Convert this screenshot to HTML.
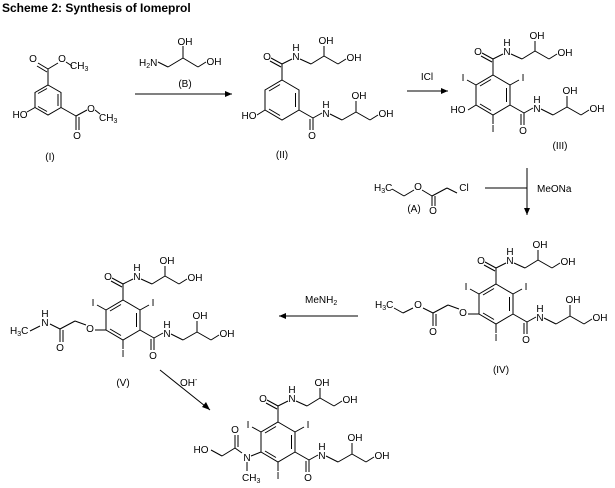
<!DOCTYPE html>
<html><head><meta charset="utf-8"><style>
html,body{margin:0;padding:0;background:#fff;}
svg{display:block;}
text{font-family:"Liberation Sans",sans-serif;font-size:10px;fill:#000;}
.t{font-weight:bold;font-size:12px;}
</style></head><body>
<svg width="615" height="488" viewBox="0 0 615 488" xmlns="http://www.w3.org/2000/svg">
<text class="t" x="2" y="12">Scheme 2: Synthesis of Iomeprol</text>
<g stroke="#000" stroke-width="1" fill="none">
<!-- Compound I -->
<polygon points="48,85 61,92.5 61,107.5 48,115 35,107.5 35,92.5"/>
<line x1="38" y1="93.5" x2="47" y2="88.5"/><line x1="58" y1="94" x2="58" y2="106"/><line x1="38" y1="106.5" x2="47" y2="111.5"/>
<line x1="48" y1="85" x2="48" y2="69"/><line x1="48" y1="69" x2="38" y2="63"/><line x1="47" y1="72" x2="37" y2="66"/>
<line x1="48" y1="69" x2="58" y2="63"/><line x1="66" y1="62" x2="72" y2="66"/>
<line x1="35" y1="107.5" x2="27" y2="112"/>
<line x1="61" y1="107.5" x2="76" y2="116"/><line x1="76" y1="116" x2="76" y2="130"/><line x1="79" y1="117" x2="79" y2="130"/>
<line x1="76" y1="116" x2="87" y2="110"/><line x1="95" y1="110" x2="100" y2="114"/>
<!-- Reagent B -->
<line x1="158" y1="62" x2="168" y2="67"/><line x1="168" y1="67" x2="183" y2="58"/><line x1="183" y1="58" x2="183" y2="46"/><line x1="183" y1="58" x2="198" y2="67"/><line x1="198" y1="67" x2="206" y2="62"/>
<line x1="135" y1="94" x2="232" y2="94"/>
<line x1="407" y1="91" x2="448" y2="91"/>
<line x1="485" y1="188" x2="527" y2="188"/><line x1="527" y1="168" x2="527" y2="215"/>
<line x1="358" y1="316" x2="279" y2="316"/>
<line x1="160" y1="370" x2="210" y2="410"/>
<!-- Reagent A -->
<line x1="392" y1="189" x2="404" y2="196"/><line x1="404" y1="196" x2="414" y2="190"/><line x1="422" y1="190" x2="432" y2="196"/>
<line x1="432" y1="196" x2="432" y2="206"/><line x1="435" y1="196" x2="435" y2="206"/><line x1="432" y1="196" x2="447" y2="188"/><line x1="447" y1="188" x2="457" y2="193"/>
</g>
<g fill="#000">
<polygon points="232,94 225,91 225,97"/>
<polygon points="448,91 441,88 441,94"/>
<polygon points="527,215 524,208 530,208"/>
<polygon points="279,316 286,313 286,319"/>
<polygon points="210,410 202,407 206,402"/>
</g>
<text x="33" y="62" text-anchor="middle">O</text><text x="62" y="62" text-anchor="middle">O</text>
<text x="70" y="69">CH<tspan font-size="7" dy="2">3</tspan></text>
<text x="20" y="118" text-anchor="middle">HO</text>
<text x="77" y="139" text-anchor="middle">O</text><text x="91" y="112" text-anchor="middle">O</text>
<text x="99" y="121">CH<tspan font-size="7" dy="2">3</tspan></text>
<text x="50" y="160" text-anchor="middle">(I)</text>
<text x="139" y="66">H<tspan font-size="7" dy="2">2</tspan><tspan dy="-2">N</tspan></text>
<text x="185" y="45" text-anchor="middle">OH</text><text x="214" y="65" text-anchor="middle">OH</text>
<text x="185" y="87" text-anchor="middle">(B)</text>
<text x="427" y="80" text-anchor="middle">ICl</text>
<text x="537" y="192">MeONa</text>
<text x="305" y="303">MeNH<tspan font-size="7" dy="2">2</tspan></text>
<text x="180" y="386">OH<tspan font-size="7" dy="-4">-</tspan></text>
<text x="414" y="212" text-anchor="middle">(A)</text>
<text x="374" y="191">H<tspan font-size="7" dy="2">3</tspan><tspan dy="-2">C</tspan></text>
<text x="418" y="190" text-anchor="middle">O</text><text x="433" y="214" text-anchor="middle">O</text>
<text x="464" y="191" text-anchor="middle">Cl</text>

<!-- Compound II -->
<g transform="translate(282,100)">
<g stroke="#000" fill="none">
<polygon points="0,-20 17,-10 17,10 0,20 -17,10 -17,-10"/>
<line x1="-13" y1="-9" x2="-2" y2="-15.5"/><line x1="13.5" y1="-7" x2="13.5" y2="7"/><line x1="-13" y1="9" x2="-2" y2="15.5"/>
<line x1="0" y1="-20" x2="0" y2="-36"/><line x1="0" y1="-36" x2="-11" y2="-42"/><line x1="-1" y1="-33" x2="-12" y2="-39"/>
<line x1="0" y1="-36" x2="10" y2="-41"/><line x1="18" y1="-41" x2="29" y2="-36"/><line x1="29" y1="-36" x2="42" y2="-44"/><line x1="42" y1="-44" x2="42" y2="-54"/><line x1="42" y1="-44" x2="56" y2="-36"/><line x1="56" y1="-36" x2="64" y2="-41"/>
<line x1="-17" y1="10" x2="-25" y2="15"/>
<line x1="17" y1="10" x2="31" y2="18"/><line x1="31" y1="18" x2="31" y2="30"/><line x1="28" y1="19" x2="28" y2="30"/>
<line x1="31" y1="18" x2="40" y2="13"/><line x1="48" y1="14" x2="60" y2="20"/><line x1="60" y1="20" x2="74" y2="12"/><line x1="74" y1="12" x2="74" y2="1"/><line x1="74" y1="12" x2="88" y2="20"/><line x1="88" y1="20" x2="96" y2="15"/>
</g>
<text x="-15" y="-40" text-anchor="middle">O</text><text x="14" y="-40" text-anchor="middle">N</text><text x="14" y="-49" text-anchor="middle">H</text>
<text x="44" y="-56" text-anchor="middle">OH</text><text x="72" y="-39" text-anchor="middle">OH</text>
<text x="-33" y="19" text-anchor="middle">HO</text>
<text x="30" y="39" text-anchor="middle">O</text><text x="44" y="17" text-anchor="middle">N</text><text x="44" y="8" text-anchor="middle">H</text>
<text x="77" y="-1" text-anchor="middle">OH</text><text x="104" y="17" text-anchor="middle">OH</text>
<text x="0" y="58" text-anchor="middle">(II)</text>
</g>

<!-- Triiodo cores: III, IV, V, final -->
<g transform="translate(493,95)">
<g stroke="#000" fill="none">
<polygon points="0,-20 17,-10 17,10 0,20 -17,10 -17,-10"/>
<line x1="-13" y1="-9" x2="-2" y2="-15.5"/><line x1="13.5" y1="-7" x2="13.5" y2="7"/><line x1="-13" y1="9" x2="-2" y2="15.5"/>
<line x1="-17" y1="-10" x2="-26" y2="-15"/><line x1="17" y1="-10" x2="26" y2="-15"/><line x1="0" y1="20" x2="0" y2="29"/>
<line x1="0" y1="-20" x2="0" y2="-36"/><line x1="0" y1="-36" x2="-11" y2="-42"/><line x1="-1" y1="-33" x2="-12" y2="-39"/>
<line x1="0" y1="-36" x2="10" y2="-41"/><line x1="18" y1="-41" x2="29" y2="-36"/><line x1="29" y1="-36" x2="42" y2="-44"/><line x1="42" y1="-44" x2="42" y2="-54"/><line x1="42" y1="-44" x2="56" y2="-36"/><line x1="56" y1="-36" x2="64" y2="-41"/>
<line x1="17" y1="10" x2="31" y2="18"/><line x1="31" y1="18" x2="31" y2="30"/><line x1="28" y1="19" x2="28" y2="30"/>
<line x1="31" y1="18" x2="40" y2="13"/><line x1="48" y1="14" x2="60" y2="20"/><line x1="60" y1="20" x2="74" y2="12"/><line x1="74" y1="12" x2="74" y2="1"/><line x1="74" y1="12" x2="88" y2="20"/><line x1="88" y1="20" x2="96" y2="15"/>
<line x1="-17" y1="10" x2="-25" y2="15"/>
</g>
<text x="-30" y="-14" text-anchor="middle">I</text><text x="30" y="-14" text-anchor="middle">I</text><text x="0" y="37" text-anchor="middle">I</text>
<text x="-15" y="-40" text-anchor="middle">O</text><text x="14" y="-40" text-anchor="middle">N</text><text x="14" y="-49" text-anchor="middle">H</text>
<text x="44" y="-56" text-anchor="middle">OH</text><text x="72" y="-39" text-anchor="middle">OH</text>
<text x="30" y="39" text-anchor="middle">O</text><text x="44" y="17" text-anchor="middle">N</text><text x="44" y="8" text-anchor="middle">H</text>
<text x="77" y="-1" text-anchor="middle">OH</text><text x="104" y="17" text-anchor="middle">OH</text>
<text x="-35" y="18" text-anchor="middle">HO</text>
<text x="67" y="54" text-anchor="middle">(III)</text>
</g>

<g transform="translate(496,304)">
<g stroke="#000" fill="none">
<polygon points="0,-20 17,-10 17,10 0,20 -17,10 -17,-10"/>
<line x1="-13" y1="-9" x2="-2" y2="-15.5"/><line x1="13.5" y1="-7" x2="13.5" y2="7"/><line x1="-13" y1="9" x2="-2" y2="15.5"/>
<line x1="-17" y1="-10" x2="-26" y2="-15"/><line x1="17" y1="-10" x2="26" y2="-15"/><line x1="0" y1="20" x2="0" y2="29"/>
<line x1="0" y1="-20" x2="0" y2="-36"/><line x1="0" y1="-36" x2="-11" y2="-42"/><line x1="-1" y1="-33" x2="-12" y2="-39"/>
<line x1="0" y1="-36" x2="10" y2="-41"/><line x1="18" y1="-41" x2="29" y2="-36"/><line x1="29" y1="-36" x2="42" y2="-44"/><line x1="42" y1="-44" x2="42" y2="-54"/><line x1="42" y1="-44" x2="56" y2="-36"/><line x1="56" y1="-36" x2="64" y2="-41"/>
<line x1="17" y1="10" x2="31" y2="18"/><line x1="31" y1="18" x2="31" y2="30"/><line x1="28" y1="19" x2="28" y2="30"/>
<line x1="31" y1="18" x2="40" y2="13"/><line x1="48" y1="14" x2="60" y2="20"/><line x1="60" y1="20" x2="74" y2="12"/><line x1="74" y1="12" x2="74" y2="1"/><line x1="74" y1="12" x2="88" y2="20"/><line x1="88" y1="20" x2="96" y2="15"/>
<line x1="-17" y1="10" x2="-28" y2="10"/><line x1="-37" y1="5" x2="-48" y2="1"/><line x1="-48" y1="1" x2="-63" y2="9"/>
<line x1="-63" y1="9" x2="-63" y2="22"/><line x1="-60" y1="10" x2="-60" y2="22"/><line x1="-63" y1="9" x2="-73" y2="4"/><line x1="-83" y1="4" x2="-93" y2="9"/><line x1="-93" y1="9" x2="-102" y2="4"/>
</g>
<text x="-30" y="-14" text-anchor="middle">I</text><text x="30" y="-14" text-anchor="middle">I</text><text x="0" y="37" text-anchor="middle">I</text>
<text x="-15" y="-40" text-anchor="middle">O</text><text x="14" y="-40" text-anchor="middle">N</text><text x="14" y="-49" text-anchor="middle">H</text>
<text x="44" y="-56" text-anchor="middle">OH</text><text x="72" y="-39" text-anchor="middle">OH</text>
<text x="30" y="39" text-anchor="middle">O</text><text x="44" y="17" text-anchor="middle">N</text><text x="44" y="8" text-anchor="middle">H</text>
<text x="77" y="-1" text-anchor="middle">OH</text><text x="104" y="17" text-anchor="middle">OH</text>
<text x="-33" y="12" text-anchor="middle">O</text><text x="-78" y="4" text-anchor="middle">O</text><text x="-63" y="31" text-anchor="middle">O</text>
<text x="-121" y="4">H<tspan font-size="7" dy="2">3</tspan><tspan dy="-2">C</tspan></text>
<text x="5" y="69" text-anchor="middle">(IV)</text>
</g>

<g transform="translate(123,320)">
<g stroke="#000" fill="none">
<polygon points="0,-20 17,-10 17,10 0,20 -17,10 -17,-10"/>
<line x1="-13" y1="-9" x2="-2" y2="-15.5"/><line x1="13.5" y1="-7" x2="13.5" y2="7"/><line x1="-13" y1="9" x2="-2" y2="15.5"/>
<line x1="-17" y1="-10" x2="-26" y2="-15"/><line x1="17" y1="-10" x2="26" y2="-15"/><line x1="0" y1="20" x2="0" y2="29"/>
<line x1="0" y1="-20" x2="0" y2="-36"/><line x1="0" y1="-36" x2="-11" y2="-42"/><line x1="-1" y1="-33" x2="-12" y2="-39"/>
<line x1="0" y1="-36" x2="10" y2="-41"/><line x1="18" y1="-41" x2="29" y2="-36"/><line x1="29" y1="-36" x2="42" y2="-44"/><line x1="42" y1="-44" x2="42" y2="-54"/><line x1="42" y1="-44" x2="56" y2="-36"/><line x1="56" y1="-36" x2="64" y2="-41"/>
<line x1="17" y1="10" x2="31" y2="18"/><line x1="31" y1="18" x2="31" y2="30"/><line x1="28" y1="19" x2="28" y2="30"/>
<line x1="31" y1="18" x2="40" y2="13"/><line x1="48" y1="14" x2="60" y2="20"/><line x1="60" y1="20" x2="74" y2="12"/><line x1="74" y1="12" x2="74" y2="1"/><line x1="74" y1="12" x2="88" y2="20"/><line x1="88" y1="20" x2="96" y2="15"/>
<line x1="-17" y1="10" x2="-28" y2="10"/><line x1="-37" y1="5" x2="-48" y2="1"/><line x1="-48" y1="1" x2="-63" y2="9"/>
<line x1="-63" y1="9" x2="-63" y2="22"/><line x1="-60" y1="10" x2="-60" y2="22"/><line x1="-63" y1="9" x2="-73" y2="4"/><line x1="-83" y1="6" x2="-93" y2="11"/>
</g>
<text x="-30" y="-14" text-anchor="middle">I</text><text x="30" y="-14" text-anchor="middle">I</text><text x="0" y="37" text-anchor="middle">I</text>
<text x="-15" y="-40" text-anchor="middle">O</text><text x="14" y="-40" text-anchor="middle">N</text><text x="14" y="-49" text-anchor="middle">H</text>
<text x="44" y="-56" text-anchor="middle">OH</text><text x="72" y="-39" text-anchor="middle">OH</text>
<text x="30" y="39" text-anchor="middle">O</text><text x="44" y="17" text-anchor="middle">N</text><text x="44" y="8" text-anchor="middle">H</text>
<text x="77" y="-1" text-anchor="middle">OH</text><text x="104" y="17" text-anchor="middle">OH</text>
<text x="-33" y="12" text-anchor="middle">O</text><text x="-78" y="6" text-anchor="middle">N</text><text x="-78" y="-3" text-anchor="middle">H</text><text x="-63" y="31" text-anchor="middle">O</text>
<text x="-113" y="14">H<tspan font-size="7" dy="2">3</tspan><tspan dy="-2">C</tspan></text>
<text x="0" y="66" text-anchor="middle">(V)</text>
</g>

<g transform="translate(278,442)">
<g stroke="#000" fill="none">
<polygon points="0,-20 17,-10 17,10 0,20 -17,10 -17,-10"/>
<line x1="-13" y1="-9" x2="-2" y2="-15.5"/><line x1="13.5" y1="-7" x2="13.5" y2="7"/><line x1="-13" y1="9" x2="-2" y2="15.5"/>
<line x1="-17" y1="-10" x2="-26" y2="-15"/><line x1="17" y1="-10" x2="26" y2="-15"/><line x1="0" y1="20" x2="0" y2="29"/>
<line x1="0" y1="-20" x2="0" y2="-36"/><line x1="0" y1="-36" x2="-11" y2="-42"/><line x1="-1" y1="-33" x2="-12" y2="-39"/>
<line x1="0" y1="-36" x2="10" y2="-41"/><line x1="18" y1="-41" x2="29" y2="-36"/><line x1="29" y1="-36" x2="42" y2="-44"/><line x1="42" y1="-44" x2="42" y2="-54"/><line x1="42" y1="-44" x2="56" y2="-36"/><line x1="56" y1="-36" x2="64" y2="-41"/>
<line x1="17" y1="10" x2="31" y2="18"/><line x1="31" y1="18" x2="31" y2="30"/><line x1="28" y1="19" x2="28" y2="30"/>
<line x1="31" y1="18" x2="40" y2="13"/><line x1="48" y1="14" x2="60" y2="20"/><line x1="60" y1="20" x2="74" y2="12"/><line x1="74" y1="12" x2="74" y2="1"/><line x1="74" y1="12" x2="88" y2="20"/><line x1="88" y1="20" x2="96" y2="15"/>
<line x1="-17" y1="10" x2="-27" y2="14"/><line x1="-31" y1="20" x2="-31" y2="29"/><line x1="-36" y1="11" x2="-43" y2="6"/>
<line x1="-43" y1="6" x2="-43" y2="-7"/><line x1="-40" y1="5" x2="-40" y2="-7"/><line x1="-43" y1="6" x2="-56" y2="14"/><line x1="-56" y1="14" x2="-67" y2="8"/>
</g>
<text x="-30" y="-14" text-anchor="middle">I</text><text x="30" y="-14" text-anchor="middle">I</text><text x="0" y="37" text-anchor="middle">I</text>
<text x="-15" y="-40" text-anchor="middle">O</text><text x="14" y="-40" text-anchor="middle">N</text><text x="14" y="-49" text-anchor="middle">H</text>
<text x="44" y="-56" text-anchor="middle">OH</text><text x="72" y="-39" text-anchor="middle">OH</text>
<text x="30" y="39" text-anchor="middle">O</text><text x="44" y="17" text-anchor="middle">N</text><text x="44" y="8" text-anchor="middle">H</text>
<text x="77" y="-1" text-anchor="middle">OH</text><text x="104" y="17" text-anchor="middle">OH</text>
<text x="-31" y="19" text-anchor="middle">N</text><text x="-43" y="-9" text-anchor="middle">O</text>
<text x="-36" y="39">CH<tspan font-size="7" dy="2">3</tspan></text>
<text x="-77" y="11" text-anchor="middle">HO</text>
</g>
</svg>
</body></html>
